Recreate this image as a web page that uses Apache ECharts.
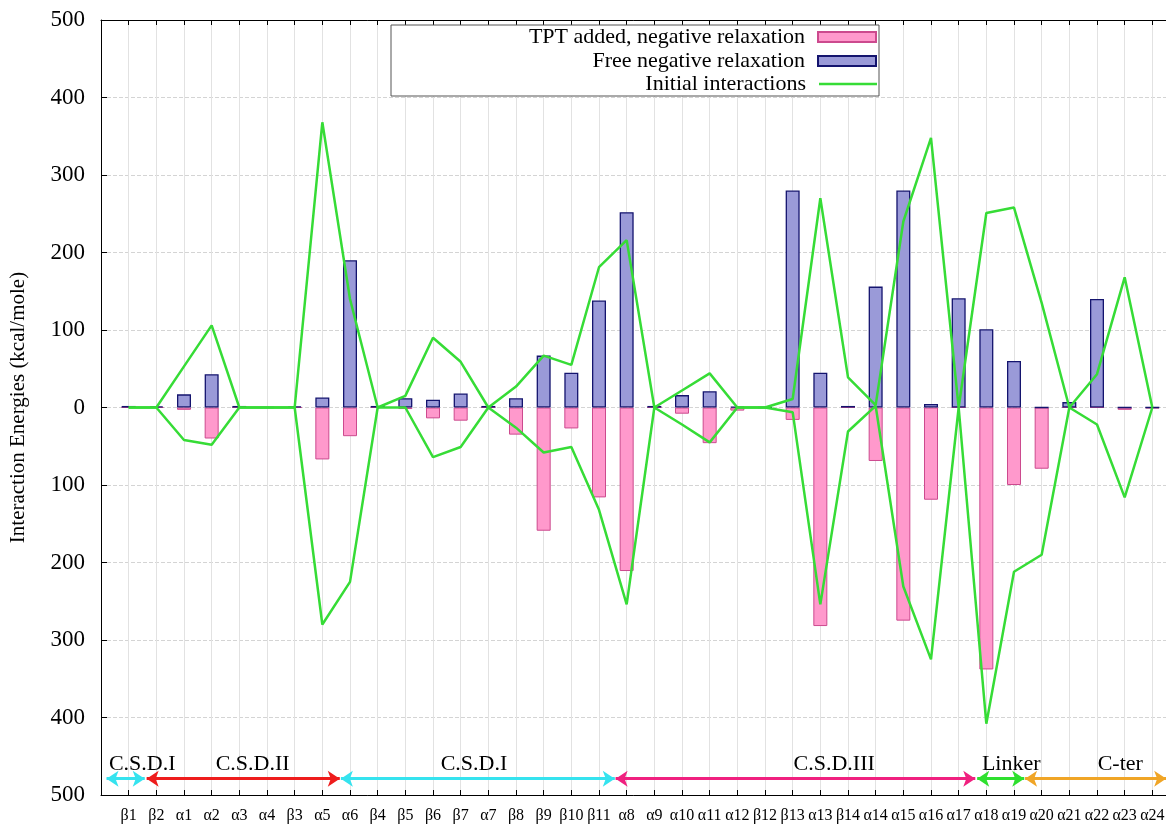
<!DOCTYPE html>
<html><head><meta charset="utf-8">
<script src="https://cdn.jsdelivr.net/npm/echarts@6/dist/echarts.min.js"></script>
<style>html,body{margin:0;padding:0;background:#fff}#c{width:1166px;height:825px}</style>
</head><body><div id="c"></div>
<script>
const categories = ['β1','β2','α1','α2','α3','α4','β3','α5','α6','β4','β5','β6','β7','α7','β8','β9','β10','β11','α8','α9','α10','α11','α12','β12','β13','α13','β14','α14','α15','α16','α17','α18','α19','α20','α21','α22','α23','α24'];
const tptAdded = [0,0,-3,-40,0,0,0,-67,-37,0,-2,-14,-17,0,-35,-159,-27,-116,-211,0,-8,-46,-4,0,-16,-282,0,-69,-275,-119,0,-338,-100,-79,0,0,-3,-1];
const freeRelax = [2,1.5,17,43,2,0,1.5,13,190,2,12,10,18,2,12,67,45,138,252,2,16,21,1,0,280,45,2,156,280,4.5,141,101,60,0,7,140,0,0];
const initialUpper = [0,0,53,106,0,0,0,368,140,0,15,90,59,0,27,67,55,181,216,0,22,44,0,0,11,270,39,3,240,348,0,251,258,135,0,43,168,0];
const initialLower = [0,0,-42,-48,0,0,0,-280,-225,0,0,-64,-51,0,-26,-58,-51,-132,-254,0,-22,-45,0,0,-6,-254,-31,2,-231,-325,0,-408,-212,-190,0,-22,-116,0];
const yTicks = [-500,-400,-300,-200,-100,0,100,200,300,400,500];
const regionNames = ['C.S.D.I','C.S.D.II','C.S.D.I','C.S.D.III','Linker','C-ter'];
const regionColors = ['#35e3ef','#ee1c1c','#35e3ef','#f0207f','#2ee02e','#f0a526'];

const FONT = 'Liberation Serif';
const pair = arr => arr.map((v, i) => [i + 1, v]);
// annotation geometry (category units)
const regionSpan = [[0.2,1.58],[1.65,8.63],[8.67,18.57],[18.6,31.6],[31.67,33.37],[33.4,38.5]];
const regionLabelX = [1.49,5.48,13.48,26.5,32.9,36.84];
const arrowY = -479, labelY = -460;

const chart = echarts.init(document.getElementById('c'));
const legendBase = {
  orient: 'vertical', align: 'right', right: 289, padding: 0,
  itemWidth: 58, itemHeight: 10, selectedMode: false,
  textStyle: {fontFamily: FONT, fontSize: 22, color: '#000', padding: [0, 8, 0, 0], lineHeight: 22}
};
chart.setOption({
  animation: false,
  backgroundColor: '#fff',
  grid: {left: 101, right: -14, top: 20, bottom: 30, containLabel: false, outerBoundsMode: 'none'},
  graphic: [{type: 'rect', z: 3, shape: {x: 391, y: 25, width: 488, height: 71},
    style: {fill: '#fff', stroke: '#555', lineWidth: 1}}],
  legend: [
    Object.assign({}, legendBase, {top: 26, data: [{name: 'TPT added, negative relaxation', icon: 'rect'}]}),
    Object.assign({}, legendBase, {top: 50, data: [{name: 'Free negative relaxation', icon: 'rect'}]}),
    Object.assign({}, legendBase, {top: 73, itemHeight: 2.5, data: [{name: 'Initial interactions', icon: 'rect', itemStyle: {color: '#36dc36', borderWidth: 0}}]})
  ],
  xAxis: [{
    type: 'value', min: 0, max: 39, interval: 1, position: 'bottom',
    axisLine: {show: true, onZero: false, lineStyle: {color: '#000', width: 1}},
    axisTick: {show: true, inside: true, length: 5, lineStyle: {color: '#000'}},
    axisLabel: {formatter: v => categories[v - 1] || '', fontFamily: FONT, fontSize: 16, color: '#000', margin: 13},
    splitLine: {show: true, lineStyle: {color: '#e2e2e2', width: 1}}
  }, {
    type: 'value', min: 0, max: 39, interval: 1, position: 'top',
    axisLine: {show: true, onZero: false, lineStyle: {color: '#000', width: 1}},
    axisTick: {show: true, inside: true, length: 5, lineStyle: {color: '#000'}},
    axisLabel: {show: false}, splitLine: {show: false}
  }],
  yAxis: {
    type: 'value', min: yTicks[0], max: yTicks[yTicks.length - 1], interval: 100,
    name: 'Interaction Energies (kcal/mole)', nameLocation: 'middle', nameGap: 72,
    nameTextStyle: {fontFamily: FONT, fontSize: 21, color: '#000'},
    axisLine: {show: true, onZero: false, lineStyle: {color: '#000'}},
    axisTick: {show: true, inside: true, length: 6, lineStyle: {color: '#000'}},
    axisLabel: {formatter: v => String(Math.abs(v)), fontFamily: FONT, fontSize: 23, color: '#000', margin: 16},
    splitLine: {show: true, lineStyle: {color: '#d4d4d4', type: 'dashed', width: 1}}
  },
  series: [{
    name: 'TPT added, negative relaxation', type: 'bar', data: pair(tptAdded),
    barWidth: 14, barGap: '-100%',
    itemStyle: {color: '#ff99cc', borderColor: '#cc4a8e', borderWidth: 1}
  }, {
    name: 'Free negative relaxation', type: 'bar', data: pair(freeRelax),
    barWidth: 14, barGap: '-100%',
    itemStyle: {color: '#9a9ad8', borderColor: '#14146e', borderWidth: 1.3}
  }, {
    name: 'Initial interactions', type: 'line', data: pair(initialUpper),
    symbol: 'none', lineStyle: {color: '#36dc36', width: 2.5}, itemStyle: {color: '#36dc36'}
  }, {
    name: 'Initial interactions', type: 'line', data: pair(initialLower),
    symbol: 'none', lineStyle: {color: '#36dc36', width: 2.5}, itemStyle: {color: '#36dc36'},
    markLine: {
      silent: true, symbol: ['arrow', 'arrow'], symbolSize: 12, label: {show: false},
      data: regionSpan.map((s, i) => [
        {coord: [s[0], arrowY], lineStyle: {color: regionColors[i], width: 3, type: 'solid'}, itemStyle: {color: regionColors[i]}},
        {coord: [s[1], arrowY]}
      ])
    },
    markPoint: {
      silent: true, symbol: 'rect', symbolSize: 1, itemStyle: {color: 'rgba(0,0,0,0)'},
      label: {show: true, position: 'inside', fontFamily: FONT, fontSize: 22, color: '#000'},
      data: regionNames.map((n, i) => ({coord: [regionLabelX[i], labelY], value: n, label: {formatter: n}}))
    }
  }]
});
</script></body></html>
